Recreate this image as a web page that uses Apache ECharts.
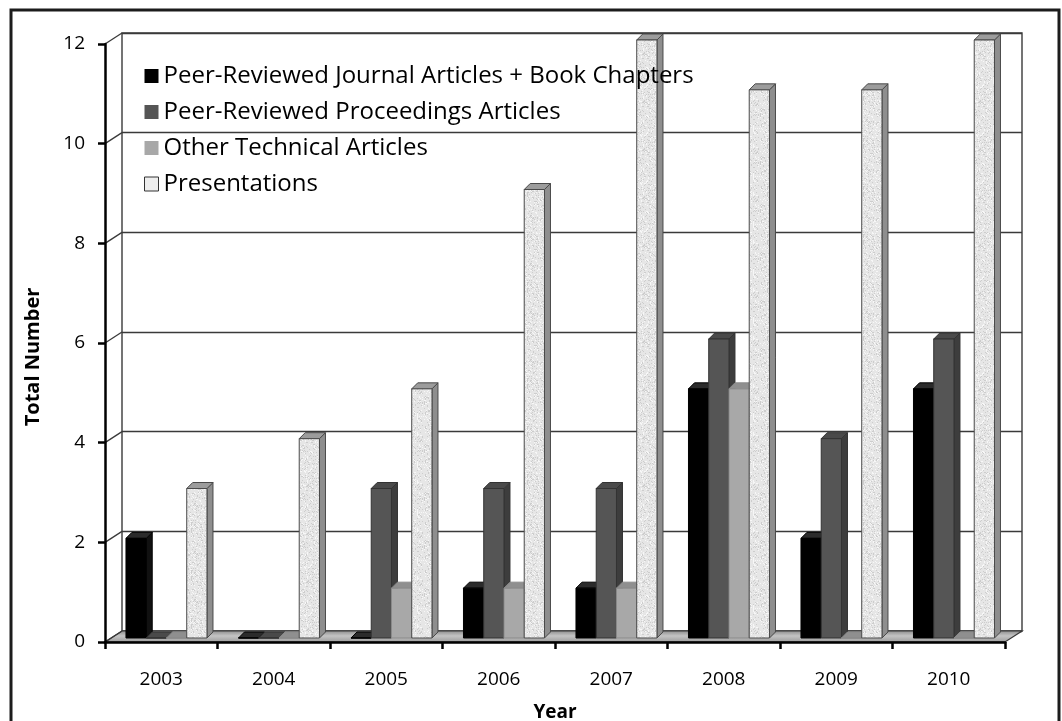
<!DOCTYPE html>
<html>
<head>
<meta charset="utf-8">
<script src="https://cdn.jsdelivr.net/npm/echarts@6/dist/echarts.min.js"></script>
<style>
  html, body { margin: 0; padding: 0; background: #ffffff; }
  #chart { width: 1062px; height: 721px; }
</style>
</head>
<body>
<div id="chart"></div>
<script>
// Publication counts per year
const years = ['2003', '2004', '2005', '2006', '2007', '2008', '2009', '2010'];
const seriesNames = [
  'Peer-Reviewed Journal Articles + Book Chapters',
  'Peer-Reviewed Proceedings Articles',
  'Other Technical Articles',
  'Presentations'
];
const journalArticles     = [2, 0, 0, 1, 1, 5, 2, 5];
const proceedingsArticles = [0, 0, 3, 3, 3, 6, 4, 6];
const otherArticles       = [0, 0, 1, 1, 1, 5, 0, 0];
const presentations       = [3, 4, 5, 9, 12, 11, 11, 12];
const yTicks = [0, 2, 4, 6, 8, 10, 12];

const FONT = '"Open Sans", "Noto Sans", sans-serif';

// pseudo-3D geometry (pixels)
const WALL_DX = 17, WALL_DY = 11;        // depth of the back wall
const BAR_DX = 6, BAR_DY = 6;            // depth of a single bar
const BAR_SHIFT_X = 5, BAR_SHIFT_Y = -4; // bars stand mid-way on the floor

// speckled texture for the presentation bars
function speckleTexture() {
  const c = document.createElement('canvas');
  c.width = 48; c.height = 48;
  const g = c.getContext('2d');
  g.fillStyle = '#e6e6e6';
  g.fillRect(0, 0, 48, 48);
  for (let y = 0; y < 48; y++) {
    for (let x = 0; x < 48; x++) {
      const h = (((x * 73856093) ^ (y * 19349663) ^ (x * y * 83492791)) >>> 0) % 256;
      if (h < 38) { g.fillStyle = '#cdcdcd'; g.fillRect(x, y, 1, 1); }
      else if (h > 226) { g.fillStyle = '#f7f7f7'; g.fillRect(x, y, 1, 1); }
    }
  }
  return c;
}

const faceStyles = [
  { front: '#000000', side: '#111111', top: '#2b2b2b', edge: '#000000' },
  { front: '#555555', side: '#3d3d3d', top: '#4a4a4a', edge: '#333333' },
  { front: '#a8a8a8', side: '#8d8d8d', top: '#8f8f8f', edge: '#8a8a8a' },
  { front: { image: speckleTexture(), repeat: 'repeat' }, side: '#8e8e8e', top: '#9c9c9c', edge: '#4a4a4a' }
];

function barRenderer(slot) {
  const f = faceStyles[slot];
  return function (params, api) {
    const idx = api.value(0);
    const v = api.value(1);
    const base = api.coord([idx, 0]);
    const top = api.coord([idx, v]);
    const band = api.size([1, 0])[0];
    const w = band * 0.18;
    const xl = base[0] - band / 2 + band * 0.142 + slot * w + BAR_SHIFT_X;
    const xr = xl + w;
    const yb = base[1] + BAR_SHIFT_Y;
    const yt = top[1] + BAR_SHIFT_Y;
    return {
      type: 'group',
      children: [
        { type: 'polygon',
          shape: { points: [[xr, yb], [xr, yt], [xr + BAR_DX, yt - BAR_DY], [xr + BAR_DX, yb - BAR_DY]] },
          style: { fill: f.side, stroke: f.edge, lineWidth: 1 } },
        { type: 'polygon',
          shape: { points: [[xl, yt], [xr, yt], [xr + BAR_DX, yt - BAR_DY], [xl + BAR_DX, yt - BAR_DY]] },
          style: { fill: f.top, stroke: f.edge, lineWidth: 1 } },
        { type: 'rect',
          shape: { x: xl, y: yt, width: w, height: yb - yt },
          style: { fill: f.front, stroke: f.edge, lineWidth: 1 } }
      ]
    };
  };
}

const valueLists = [journalArticles, proceedingsArticles, otherArticles, presentations];
const legendColors = ['#000000', '#555555', '#a8a8a8', '#eeeeee'];

const barSeries = valueLists.map((vals, s) => ({
  name: seriesNames[s],
  type: 'custom',
  xAxisIndex: 0,
  yAxisIndex: 0,
  z: 3 + s * 0.01,
  itemStyle: { color: legendColors[s] },
  renderItem: barRenderer(s),
  encode: { x: 0, y: 1 },
  data: vals.map((v, i) => [i, v])
}));

// floor of the plot box
const floorSeries = {
  type: 'custom',
  xAxisIndex: 0,
  yAxisIndex: 0,
  z: 1,
  silent: true,
  data: [[0, 0]],
  renderItem: function (params, api) {
    const cs = params.coordSys;
    const y0 = api.coord([0, 0])[1];
    const x0 = cs.x, x1 = cs.x + cs.width;
    return {
      type: 'polygon',
      shape: { points: [[x0, y0], [x1, y0], [x1 + WALL_DX, y0 - WALL_DY], [x0 + WALL_DX, y0 - WALL_DY]] },
      style: {
        fill: new echarts.graphic.LinearGradient(0, 0, 0, 1, [
          { offset: 0, color: '#8a8a8a' },
          { offset: 0.45, color: '#c4c4c4' },
          { offset: 1, color: '#9a9a9a' }
        ]),
        stroke: '#3a3a3a',
        lineWidth: 1.2
      }
    };
  }
};

// side-wall lines joining the front axis ticks to the back wall
const wallSeries = {
  type: 'custom',
  xAxisIndex: 0,
  yAxisIndex: 0,
  z: 1,
  silent: true,
  data: yTicks.map(t => [0, t]),
  renderItem: function (params, api) {
    const cs = params.coordSys;
    const y = api.coord([0, api.value(1)])[1];
    return {
      type: 'line',
      shape: { x1: cs.x, y1: y, x2: cs.x + WALL_DX, y2: y - WALL_DY },
      style: { stroke: '#3a3a3a', lineWidth: 1.3 }
    };
  }
};

const chart = echarts.init(document.getElementById('chart'), null, { renderer: 'canvas' });

chart.setOption({
  animation: false,
  backgroundColor: '#ffffff',
  textStyle: { fontFamily: FONT },
  graphic: [
    { type: 'rect', z: 100, silent: true,
      shape: { x: 11, y: 10, width: 1048, height: 800 },
      style: { fill: null, stroke: '#1c1c1c', lineWidth: 3 } }
  ],
  legend: {
    orient: 'vertical',
    left: 139,
    top: 57,
    z: 20,
    itemWidth: 14,
    itemHeight: 14,
    itemGap: 8,
    icon: 'rect',
    textStyle: { fontFamily: FONT, fontSize: 24, color: '#000000', lineHeight: 28 },
    data: seriesNames.map((n, s) => ({
      name: n,
      itemStyle: { color: legendColors[s], borderColor: s === 3 ? '#333333' : legendColors[s], borderWidth: s === 3 ? 1 : 0 }
    }))
  },
  grid: [
    { left: 105, right: 57, top: 44, bottom: 79, containLabel: false, outerBoundsMode: 'none' },
    { left: 122, right: 40, top: 33, bottom: 90, containLabel: false, outerBoundsMode: 'none',
      show: true, borderColor: '#3a3a3a', borderWidth: 1.4, backgroundColor: 'transparent' }
  ],
  xAxis: [
    {
      type: 'category',
      gridIndex: 0,
      data: years,
      z: 10,
      axisLine: { lineStyle: { color: '#000000', width: 2.5 } },
      axisTick: { show: true, length: 7, lineStyle: { color: '#000000', width: 2.5 } },
      axisLabel: { fontFamily: FONT, fontSize: 19, color: '#000000', margin: 28 },
      splitLine: { show: false },
      name: 'Year',
      nameLocation: 'middle',
      nameGap: 61,
      nameTextStyle: { fontFamily: FONT, fontSize: 19, fontWeight: 'bold', color: '#000000' }
    },
    { type: 'value', gridIndex: 1, show: false, min: 0, max: 1 }
  ],
  yAxis: [
    {
      type: 'value',
      gridIndex: 0,
      min: 0,
      max: 12,
      interval: 2,
      z: 10,
      axisLine: { show: true, lineStyle: { color: '#000000', width: 2.5 } },
      axisTick: { show: true, length: 7, lineStyle: { color: '#000000', width: 2.5 } },
      axisLabel: { fontFamily: FONT, fontSize: 19, color: '#000000', margin: 20 },
      splitLine: { show: false },
      name: 'Total Number',
      nameLocation: 'middle',
      nameRotate: 90,
      nameGap: 62,
      nameTextStyle: { fontFamily: FONT, fontSize: 20, fontWeight: 'bold', color: '#000000', padding: [0, 28, 0, 0] }
    },
    {
      type: 'value',
      gridIndex: 1,
      min: 0,
      max: 12,
      interval: 2,
      axisLine: { show: false },
      axisTick: { show: false },
      axisLabel: { show: false },
      splitLine: { show: true, lineStyle: { color: '#3a3a3a', width: 1.4 } }
    }
  ],
  series: [floorSeries, wallSeries].concat(barSeries)
});
</script>
</body>
</html>
